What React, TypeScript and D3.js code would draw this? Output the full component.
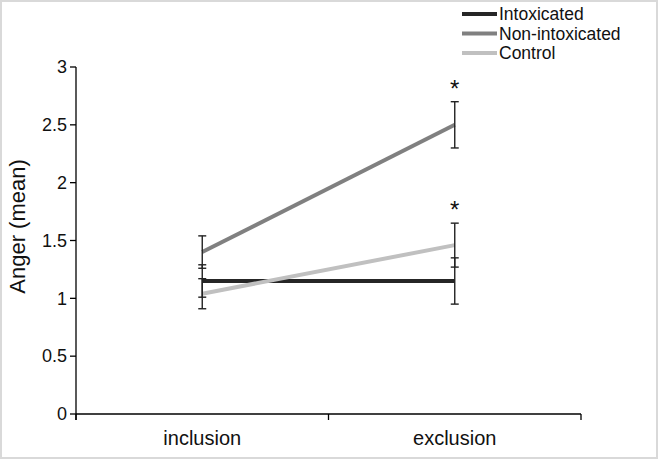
import React from 'react';
import * as d3 from 'd3';

const conditions = ['inclusion', 'exclusion'];
const seriesNames = ['Intoxicated', 'Non-intoxicated', 'Control'];
const seriesColors = ['#262626', '#808080', '#c0c0c0'];
const intoxicatedMean = [1.15, 1.15];
const intoxicatedErr = [0.14, 0.2];
const nonIntoxicatedMean = [1.4, 2.5];
const nonIntoxicatedErr = [0.14, 0.2];
const controlMean = [1.04, 1.46];
const controlErr = [0.13, 0.19];
const significant = [[false, false], [false, true], [false, true]];
const yTicks = [0, 0.5, 1, 1.5, 2, 2.5, 3];

const W = 658;
const H = 459;
const font = '"Liberation Sans", Arial, sans-serif';

export default function App() {
  const x = d3.scaleBand().domain(conditions).range([76, 581]).padding(0);
  const y = d3.scaleLinear().domain([0, 3]).range([414, 67]);
  const cx = (c: string) => (x(c) as number) + x.bandwidth() / 2;

  const series = [
    { name: seriesNames[0], color: seriesColors[0], mean: intoxicatedMean, err: intoxicatedErr, sig: significant[0] },
    { name: seriesNames[1], color: seriesColors[1], mean: nonIntoxicatedMean, err: nonIntoxicatedErr, sig: significant[1] },
    { name: seriesNames[2], color: seriesColors[2], mean: controlMean, err: controlErr, sig: significant[2] },
  ];

  const line = d3.line<number>()
    .x((_, i) => cx(conditions[i]))
    .y(d => y(d));

  const xTickPos = [x.range()[0], ...conditions.map(c => (x(c) as number) + x.bandwidth())];

  return (
    <svg width={W} height={H} style={{ position: 'absolute', left: 0, top: 0, background: '#fff' }} fontFamily={font}>
      <rect x={1} y={1} width={W - 2} height={H - 2} fill="#fff" stroke="#d9d9d9" strokeWidth={2} />

      {/* y axis */}
      <line x1={76} x2={76} y1={y(3)} y2={y(0) + 6} stroke="#000" strokeWidth={1.3} />
      {yTicks.map(t => (
        <g key={t}>
          <line x1={70} x2={76} y1={y(t)} y2={y(t)} stroke="#000" strokeWidth={1.3} />
          <text x={67} y={y(t)} dy="0.35em" textAnchor="end" fontSize={18} fill="#111">{t}</text>
        </g>
      ))}
      <text transform={`translate(25,${(y(0) + y(3)) / 2 - 14}) rotate(-90)`} textAnchor="middle" fontSize={22} fill="#111">Anger (mean)</text>

      {/* x axis */}
      <line x1={76} x2={581} y1={y(0)} y2={y(0)} stroke="#000" strokeWidth={1.3} />
      {xTickPos.map((p, i) => (
        <line key={i} x1={p} x2={p} y1={y(0)} y2={y(0) + 6} stroke="#000" strokeWidth={1.3} />
      ))}
      {conditions.map(c => (
        <text key={c} x={cx(c)} y={445} textAnchor="middle" fontSize={20} fill="#111">{c}</text>
      ))}

      {/* series lines */}
      {series.map(s => (
        <path key={s.name} d={line(s.mean) || ''} fill="none" stroke={s.color} strokeWidth={4} />
      ))}

      {/* error bars */}
      {series.map(s => (
        <g key={s.name + '-err'} stroke="#222" strokeWidth={1.4}>
          {conditions.map((c, i) => {
            const px = cx(c);
            const top = y(s.mean[i] + s.err[i]);
            const bot = y(s.mean[i] - s.err[i]);
            return (
              <g key={c}>
                <line x1={px} x2={px} y1={top} y2={bot} />
                <line x1={px - 4} x2={px + 4} y1={top} y2={top} />
                <line x1={px - 4} x2={px + 4} y1={bot} y2={bot} />
              </g>
            );
          })}
        </g>
      ))}

      {/* significance stars */}
      {series.map(s => conditions.map((c, i) => s.sig[i] ? (
        <text key={s.name + c} x={cx(c)} y={y(s.mean[i] + s.err[i]) - 5} textAnchor="middle" fontSize={24} fill="#111">*</text>
      ) : null))}

      {/* legend */}
      {series.map((s, i) => (
        <g key={s.name + '-leg'} transform={`translate(462,${14 + i * 19.5})`}>
          <line x1={0} x2={35} y1={0} y2={0} stroke={s.color} strokeWidth={4} />
          <text x={37} y={0} dy="0.35em" fontSize={17.5} fill="#111">{s.name}</text>
        </g>
      ))}
    </svg>
  );
}
